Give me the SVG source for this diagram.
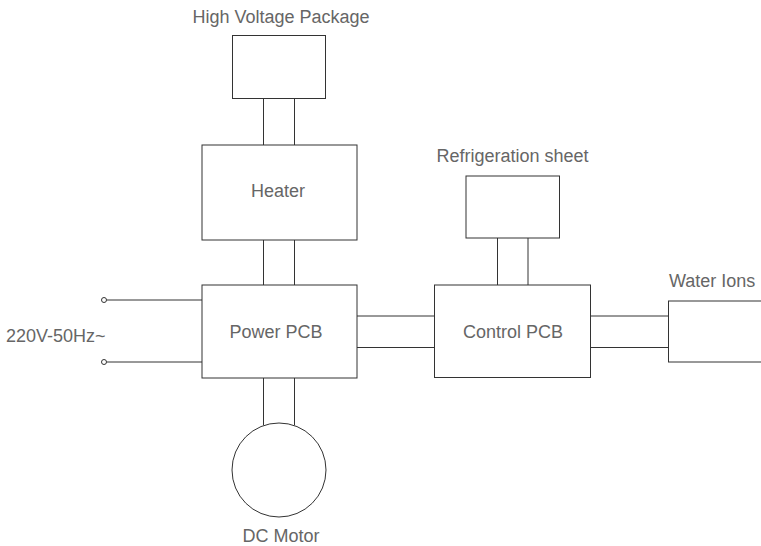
<svg xmlns="http://www.w3.org/2000/svg" width="761" height="546" viewBox="0 0 761 546">
<style>
.box{fill:#fff;stroke:#333;stroke-width:1}
.ln{fill:none;stroke:#333;stroke-width:1}
.t{font-family:"Liberation Sans",Arial,sans-serif;font-size:18px;fill:#666}
.m{text-anchor:middle}
</style>
<rect width="761" height="546" fill="#fff"/>
<g id="connectors">
<line class="ln" x1="263.5" y1="98" x2="263.5" y2="145"/>
<line class="ln" x1="294.5" y1="98" x2="294.5" y2="145"/>
<line class="ln" x1="263.5" y1="240" x2="263.5" y2="285"/>
<line class="ln" x1="294.5" y1="240" x2="294.5" y2="285"/>
<line class="ln" x1="106.5" y1="300" x2="202" y2="300"/>
<line class="ln" x1="106.5" y1="362" x2="202" y2="362"/>
<line class="ln" x1="357" y1="316" x2="434.5" y2="316"/>
<line class="ln" x1="357" y1="347.5" x2="434.5" y2="347.5"/>
<line class="ln" x1="497.5" y1="238" x2="497.5" y2="285"/>
<line class="ln" x1="528" y1="238" x2="528" y2="285"/>
<line class="ln" x1="590.5" y1="316" x2="668.5" y2="316"/>
<line class="ln" x1="590.5" y1="347.5" x2="668.5" y2="347.5"/>
<line class="ln" x1="263.5" y1="378" x2="263.5" y2="425.4"/>
<line class="ln" x1="294.5" y1="378" x2="294.5" y2="425.4"/>
</g>
<g id="hv">
<rect class="box" x="232.5" y="35.5" width="93" height="63"/>
<text class="t m" x="281" y="23">High Voltage Package</text>
</g>
<g id="heater">
<rect class="box" x="202" y="145" width="155" height="95"/>
<text class="t m" x="278" y="197">Heater</text>
</g>
<g id="power">
<rect class="box" x="202" y="285" width="155" height="93"/>
<text class="t m" x="276" y="337.5">Power PCB</text>
</g>
<g id="input">
<circle cx="104" cy="300" r="2.5" fill="#fff" stroke="#333"/>
<circle cx="104" cy="362" r="2.5" fill="#fff" stroke="#333"/>
<text class="t" x="6" y="342">220V-50Hz~</text>
</g>
<g id="refrig">
<rect class="box" x="466" y="176" width="93.5" height="62"/>
<text class="t m" x="512.5" y="162">Refrigeration sheet</text>
</g>
<g id="control">
<rect class="box" x="434.5" y="285" width="156" height="92.5"/>
<text class="t m" x="513" y="337.5">Control PCB</text>
</g>
<g id="water">
<rect class="box" x="668.5" y="301" width="110" height="61"/>
<text class="t" x="669" y="287">Water Ions</text>
</g>
<g id="motor">
<circle class="box" cx="279" cy="470" r="47"/>
<text class="t m" x="281" y="542">DC Motor</text>
</g>
</svg>
